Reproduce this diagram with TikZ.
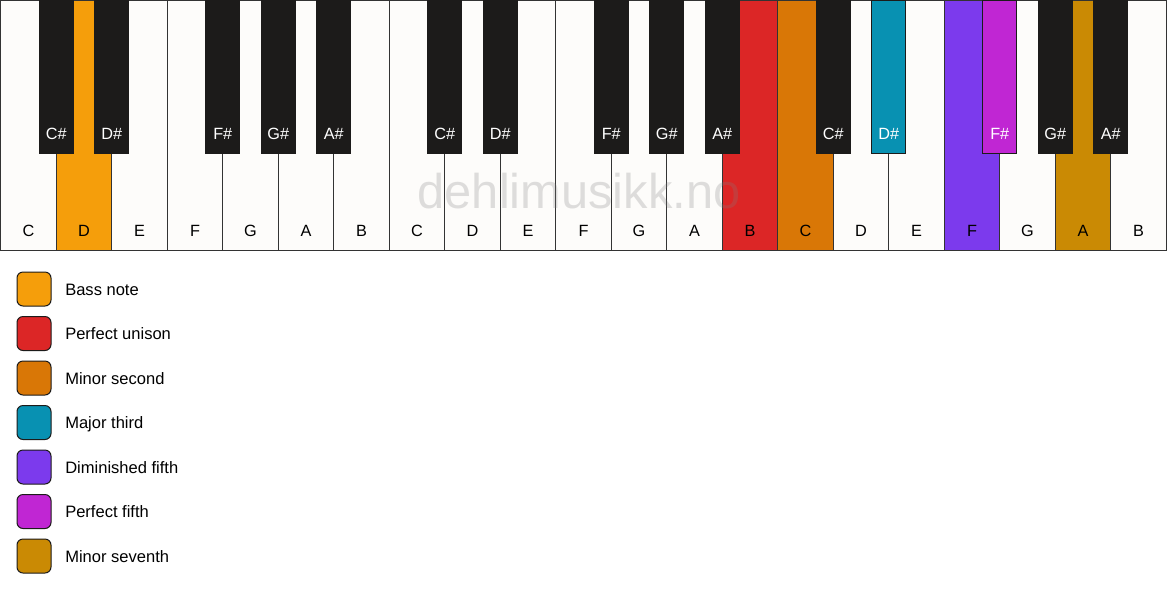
\documentclass[tikz,border=0pt]{standalone}
\usepackage{fontspec}
\setmainfont{Liberation Sans}
\definecolor{keywhite}{HTML}{FDFCFA}
\definecolor{keyblack}{HTML}{1C1B1A}
\definecolor{keyline}{HTML}{333333}
\definecolor{cbass}{HTML}{F59E0B}
\definecolor{cunison}{HTML}{DC2626}
\definecolor{cminsec}{HTML}{D97706}
\definecolor{cmajthird}{HTML}{0891B2}
\definecolor{cdimfifth}{HTML}{7C3AED}
\definecolor{cperfifth}{HTML}{C026D3}
\definecolor{cminsev}{HTML}{CA8A04}
\tikzset{
  whitekey/.style={draw=keyline, line width=0.75pt, minimum width=41.625pt, minimum height=187.5pt, anchor=north west, inner sep=0pt, outer sep=0pt},
  blackkey/.style={draw=keyblack, line width=0.75pt, minimum width=25.5pt, minimum height=114.75pt, anchor=north, inner sep=0pt, outer sep=0pt},
  wlabel/.style={anchor=base, font=\fontsize{12.2}{14}\selectfont, text=black, inner sep=0pt},
  blabel/.style={anchor=base, font=\fontsize{12.2}{14}\selectfont, text=white, inner sep=0pt},
  legbox/.style={draw=keyblack, line width=0.75pt, rounded corners=4.5pt, minimum width=25.5pt, minimum height=25.5pt, inner sep=0pt},
  legtext/.style={anchor=base west, font=\fontsize{12.4}{14}\selectfont, text=black, inner sep=0pt},
  watermark/.style={anchor=base, font=\fontsize{36.6}{40}\selectfont, text=black!50, opacity=0.25, inner sep=0pt}
}
\begin{document}
\begin{tikzpicture}[x=0.75pt,y=-0.75pt]
\useasboundingbox (0,0) rectangle (1167,594);
\fill[white] (0,0) rectangle (1167,594);
% white keys
\foreach \i/\n/\c in {0/C/keywhite,1/D/cbass,2/E/keywhite,3/F/keywhite,4/G/keywhite,5/A/keywhite,6/B/keywhite,
  7/C/keywhite,8/D/keywhite,9/E/keywhite,10/F/keywhite,11/G/keywhite,12/A/keywhite,13/B/cunison,
  14/C/cminsec,15/D/keywhite,16/E/keywhite,17/F/cdimfifth,18/G/keywhite,19/A/cminsev,20/B/keywhite}{
  \node[whitekey, fill=\c] (w\i) at (0.75+55.5*\i, 0.5) {};
  \node[wlabel] (wl\i) at (0.75+55.5*\i+27.75, 236) {\n};
}
% black keys
\foreach \b/\n/\c in {1/C/keyblack,2/D/keyblack,4/F/keyblack,5/G/keyblack,6/A/keyblack,
  8/C/keyblack,9/D/keyblack,11/F/keyblack,12/G/keyblack,13/A/keyblack,
  15/C/keyblack,16/D/cmajthird,18/F/cperfifth,19/G/keyblack,20/A/keyblack}{
  \node[blackkey, fill=\c] (b\b) at (0.75+55.5*\b, 0) {};
  \node[blabel] (bl\b) at (0.75+55.5*\b, 139) {\n\#};
}
% watermark
\node[watermark] (wm) at (579,208) {dehlimusikk.no};
% legend
\foreach \k/\c/\t in {0/cbass/Bass note,1/cunison/Perfect unison,2/cminsec/Minor second,
  3/cmajthird/Major third,4/cdimfifth/Diminished fifth,5/cperfifth/Perfect fifth,6/cminsev/Minor seventh}{
  \node[legbox, fill=\c] (lb\k) at (34, 289+44.5*\k) {};
  \node[legtext] (lt\k) at (65, 295+44.5*\k) {\t};
}
\end{tikzpicture}
\end{document}
